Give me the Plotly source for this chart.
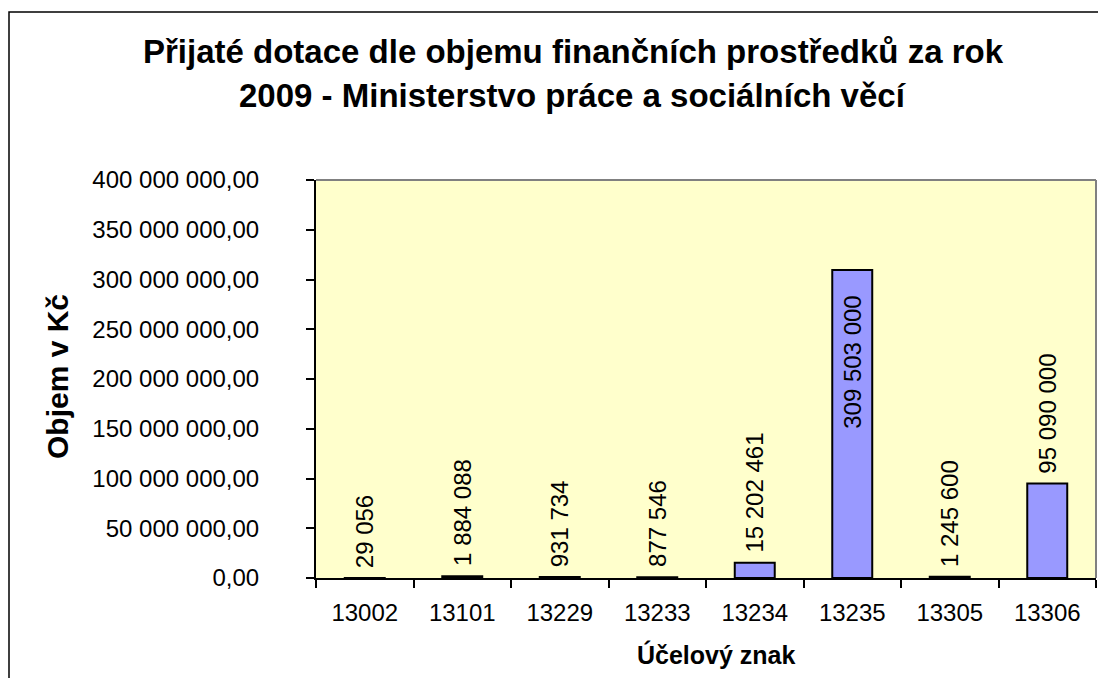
import plotly.graph_objects as go

categories = ["13002", "13101", "13229", "13233", "13234", "13235", "13305", "13306"]
values = [29056, 1884088, 931734, 877546, 15202461, 309503000, 1245600, 95090000]
y_ticks = [0, 50e6, 100e6, 150e6, 200e6, 250e6, 300e6, 350e6, 400e6]

title_lines = ["Přijaté dotace dle objemu finančních prostředků za rok",
               "2009 - Ministerstvo práce a sociálních věcí"]
y_title = "Objem v Kč"
x_title = "Účelový znak"

FONT = "Arial, 'Liberation Sans', sans-serif"
OFF = 8  # page body margin
W, H = 1090, 670
# plot area in page pixels: x 316..1096, y 180..578
L = 316 - OFF
T = 180 - OFF
R = W - (1096 - OFF)
B = H - (578 - OFF)
PW, PH = W - L - R, H - T - B
Y_MAX = 400e6


def fmt_space(v, decimals=0):
    s = f"{v:,.{decimals}f}".replace(",", " ")
    return s.replace(".", ",")


def px_x(X):
    return (X - OFF - L) / PW


def px_y(Y):
    return (H - B - (Y - OFF)) / PH


fig = go.Figure()
fig.add_trace(go.Bar(
    x=categories, y=values, width=0.41,
    marker=dict(color="#9999FF", line=dict(color="black", width=2)),
    hoverinfo="x+y",
))

annotations = []
# data labels
for i, v in enumerate(values):
    txt = fmt_space(v)
    label_px = len(txt.replace(" ", "")) * 0.556 * 24 + txt.count(" ") * 0.278 * 24
    val_px = v / Y_MAX * PH
    if val_px + 10 + label_px > PH:
        annotations.append(dict(x=i, y=v, xref="x", yref="y", text=txt, textangle=-90,
                                showarrow=False, yanchor="top", yshift=-24,
                                font=dict(size=24, color="black", family=FONT)))
    else:
        annotations.append(dict(x=i, y=v, xref="x", yref="y", text=txt, textangle=-90,
                                showarrow=False, yanchor="bottom", yshift=8,
                                font=dict(size=24, color="black", family=FONT)))

# titles
annotations.append(dict(x=px_x(573), y=px_y(52), xref="paper", yref="paper",
                        text=f"<b>{title_lines[0]}</b>", showarrow=False,
                        xanchor="center", yanchor="middle",
                        font=dict(size=33, color="black", family=FONT)))
annotations.append(dict(x=px_x(573), y=px_y(95), xref="paper", yref="paper",
                        text=f"<b>{title_lines[1]}</b>", showarrow=False,
                        xanchor="center", yanchor="middle",
                        font=dict(size=33, color="black", family=FONT)))
annotations.append(dict(x=px_x(57), y=px_y(377), xref="paper", yref="paper",
                        text=f"<b>{y_title}</b>", showarrow=False, textangle=-90,
                        xanchor="center", yanchor="middle",
                        font=dict(size=30, color="black", family=FONT)))
annotations.append(dict(x=px_x(716), y=px_y(654), xref="paper", yref="paper",
                        text=f"<b>{x_title}</b>", showarrow=False,
                        xanchor="center", yanchor="middle",
                        font=dict(size=25, color="black", family=FONT)))

shapes = [
    # outer chart border
    dict(type="rect", xref="paper", yref="paper",
         x0=px_x(9), x1=px_x(1140), y0=px_y(720), y1=px_y(12),
         line=dict(color="black", width=1.5), fillcolor="rgba(0,0,0,0)", layer="below"),
    # plot area border (top and right)
    dict(type="line", xref="paper", yref="paper", x0=0, x1=1, y0=1, y1=1,
         line=dict(color="#808080", width=2), layer="above"),
    dict(type="line", xref="paper", yref="paper", x0=1, x1=1, y0=0, y1=1,
         line=dict(color="#808080", width=2), layer="above"),
]

fig.update_layout(
    width=W, height=H,
    margin=dict(l=L, r=R, t=T, b=B, pad=0),
    paper_bgcolor="white", plot_bgcolor="#FFFFCC",
    showlegend=False,
    font=dict(family=FONT, size=24, color="black"),
    annotations=annotations, shapes=shapes,
)
fig.update_xaxes(
    type="category", categoryorder="array", categoryarray=categories,
    range=[-0.5, len(categories) - 0.5], autorange=False,
    showline=True, linecolor="black", linewidth=2,
    ticks="outside", ticklen=8, tickcolor="black", tickwidth=1.5,
    tickson="boundaries", showgrid=False, zeroline=False,
    tickfont=dict(size=24, family=FONT, color="black"), tickangle=0,
    ticklabelstandoff=12,
)
fig.update_yaxes(
    range=[0, Y_MAX], autorange=False,
    tickvals=y_ticks, ticktext=[fmt_space(v, 2) for v in y_ticks],
    showline=True, linecolor="black", linewidth=2,
    ticks="outside", ticklen=8, tickcolor="black", tickwidth=1.5,
    showgrid=False, zeroline=False,
    tickfont=dict(size=24, family=FONT, color="black"),
    ticklabelstandoff=42,
)

fig.write_html("out.html")
